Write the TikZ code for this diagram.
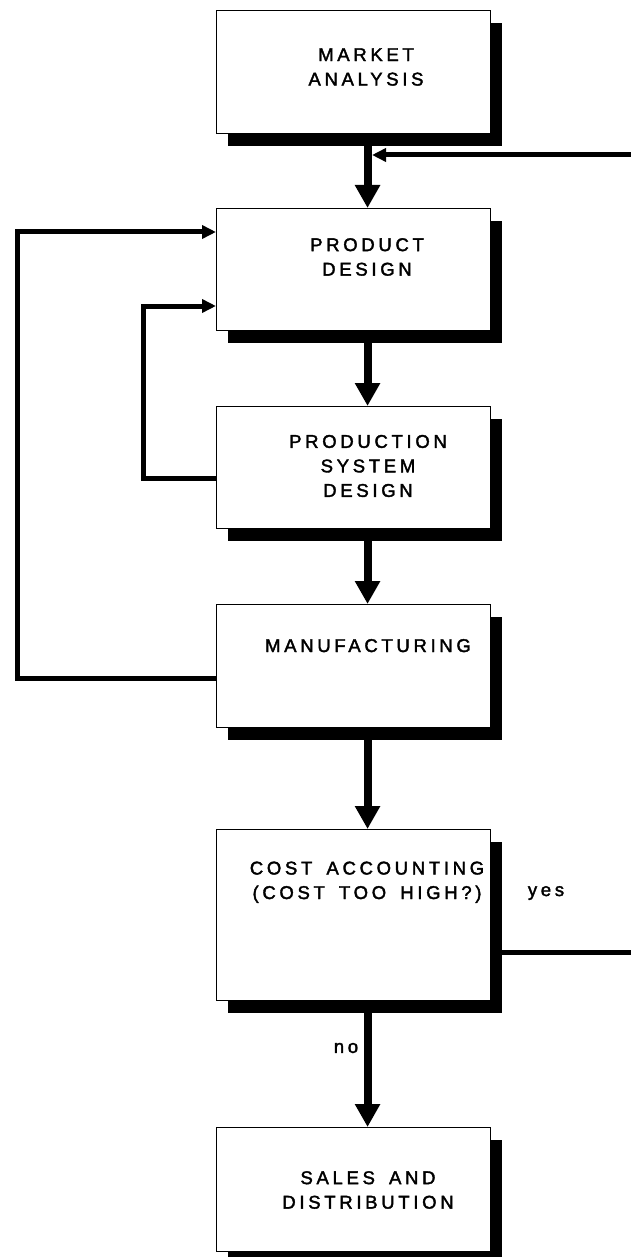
\documentclass[tikz,border=0pt]{standalone}
\usepackage{fontspec}
\setmainfont{Liberation Sans}[LetterSpace=20,FakeBold=2,WordSpace=1.6]
\usetikzlibrary{arrows.meta,shadows}
\begin{document}
\begin{tikzpicture}[x=1pt,y=-1pt,
  stagebox/.style={draw,line width=1.1pt,fill=white,minimum width=274pt,minimum height=123pt,
    inner sep=0pt,anchor=north west,
    general shadow={fill=black,shadow xshift=11pt,shadow yshift=-12pt}},
  lbl/.style={align=center,font=\fontsize{18.5}{24.5}\selectfont,inner sep=0pt},
  mainarrow/.style={line width=8pt,-{Triangle[length=23pt,width=24pt]}},
  loopline/.style={line width=5pt},
  looparrow/.style={line width=5pt,-{Triangle[length=14pt,width=13pt]}}]
\useasboundingbox (0,0) rectangle (631,1257);
\clip (0,0) rectangle (631,1257);
% boxes
\node[stagebox] (b1) at (216,10) {};
\node[stagebox,minimum height=122pt] (b2) at (216,208) {};
\node[stagebox,minimum height=122pt] (b3) at (216,406) {};
\node[stagebox] (b4) at (216,604) {};
\node[stagebox,minimum height=171pt] (b5) at (216,829) {};
\node[stagebox,minimum height=124pt] (b6) at (216,1127) {};
% texts
\node[lbl] (t1) at (366,67) {MARKET\\ANALYSIS};
\node[lbl] (t2) at (367,257) {PRODUCT\\DESIGN};
\node[lbl] (t3) at (368,466) {PRODUCTION\\SYSTEM\\DESIGN};
\node[lbl,anchor=base] (t4) at (368,652) {MANUFACTURING};
\node[lbl,anchor=base] (t5) at (367,899) {COST ACCOUNTING\\(COST TOO HIGH?)};
\node[lbl] (t6) at (368,1190) {SALES AND\\DISTRIBUTION};
\node[lbl] (yes) at (546,893) {yes};
\node[lbl] (no) at (346,1048) {no};
% main arrows
\draw[mainarrow] ([xshift=14pt]b1.south) -- ([xshift=14pt]b2.north);
\draw[mainarrow] ([xshift=14pt]b2.south) -- ([xshift=14pt]b3.north);
\draw[mainarrow] ([xshift=14pt]b3.south) -- ([xshift=14pt]b4.north);
\draw[mainarrow] ([xshift=14pt]b4.south) -- ([xshift=14pt]b5.north);
\draw[mainarrow] ([xshift=14pt]b5.south) -- ([xshift=14pt]b6.north);
% feedback from the right
\coordinate (fbR) at (631,155);
\coordinate (fbL) at (372,155);
\draw[looparrow] (fbR) -- (fbL);
\coordinate (yesR) at (631,952);
\draw[loopline] (b5.east |- yesR) -- (yesR);
% left loops
\coordinate (outerX) at (17,678);
\coordinate (outerIn) at (216,232);
\draw[looparrow] (b4.west |- outerX) -- (outerX) |- (outerIn);
\coordinate (innerX) at (143,478);
\coordinate (innerIn) at (216,306);
\draw[looparrow] (b3.west |- innerX) -- (innerX) |- (innerIn);
\end{tikzpicture}
\end{document}
